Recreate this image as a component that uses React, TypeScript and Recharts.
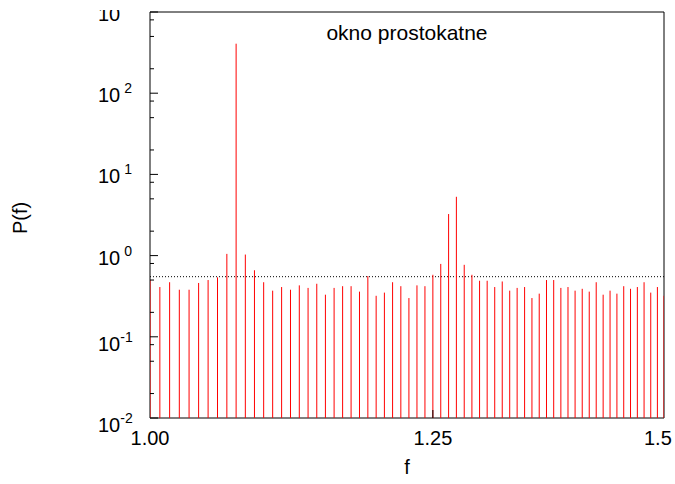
import React from 'react';
import {
  ComposedChart,
  Scatter,
  XAxis,
  YAxis,
  ReferenceLine,
  ReferenceArea,
  Customized,
} from 'recharts';

// frequency grid (f) and power P(f)
const freqs = [
  1.0, 1.0078, 1.0156, 1.0234, 1.0313, 1.0391, 1.0469, 1.0547, 1.0625, 1.0703,
  1.0781, 1.0859, 1.0938, 1.1016, 1.1094, 1.1172, 1.125, 1.1328, 1.1406, 1.1484,
  1.1563, 1.1641, 1.1719, 1.1797, 1.1875, 1.1953, 1.2031, 1.2109, 1.2188, 1.2266,
  1.2344, 1.2422, 1.25, 1.2578, 1.2656, 1.2734, 1.2813, 1.2891, 1.2969, 1.3047,
  1.3125, 1.3203, 1.3281, 1.3359, 1.3438, 1.3516, 1.3594, 1.3672, 1.375, 1.3828,
  1.3906, 1.3984, 1.4063, 1.4141, 1.4219, 1.4297, 1.4375, 1.4453, 1.4531, 1.4609,
  1.4688, 1.4766, 1.4844, 1.4922, 1.5,
];

const power = [
  0.5, 0.41, 0.47, 0.38, 0.38, 0.46, 0.5, 0.54, 1.05, 407,
  1.03, 0.66, 0.47, 0.37, 0.41, 0.38, 0.43, 0.4, 0.45, 0.33,
  0.4, 0.42, 0.42, 0.36, 0.56, 0.32, 0.35, 0.47, 0.42, 0.3,
  0.43, 0.42, 0.58, 0.79, 3.25, 5.3, 0.77, 0.58, 0.49, 0.49,
  0.41, 0.48, 0.37, 0.4, 0.41, 0.3, 0.34, 0.5, 0.5, 0.4,
  0.41, 0.37, 0.39, 0.36, 0.47, 0.33, 0.37, 0.34, 0.42, 0.39,
  0.41, 0.47, 0.35, 0.41, 0.32,
];

const xTicks = [1.0, 1.25, 1.5];
const xTickLabels = ['1.00', '1.25', '1.5'];
const yTicks = [
  0.01, 0.02, 0.05, 0.08,
  0.1, 0.2, 0.5, 0.8,
  1, 2, 5, 8,
  10, 20, 50, 80,
  100, 200, 500, 800,
  1000,
];
const noiseLevel = 0.55;
const title = 'okno prostokatne';

const data = freqs.map((f, i) => ({ f, p: power[i] }));

const W = 675;
const H = 484;
const PLOT_TOP = 12;
const PLOT_BOTTOM = 418;
const PLOT_LEFT = 150;
const PLOT_RIGHT = 664;
const FONT = 'Liberation Sans, Arial, Helvetica, sans-serif';

const isMajor = (v: number) => {
  const e = Math.round(Math.log10(v));
  return Math.abs(v - Math.pow(10, e)) < 1e-9 * v;
};

const Stem = (props: any) => {
  const { cx, cy } = props;
  if (cx == null || cy == null) return null;
  return <line x1={cx} x2={cx} y1={cy} y2={PLOT_BOTTOM} stroke="#ff0000" strokeWidth={1} />;
};

const LeftTick = (props: any) => {
  const { x, y, payload } = props;
  const v = payload.value;
  const major = isMajor(v);
  const e = Math.round(Math.log10(v));
  const neg = e < 0;
  return (
    <g>
      <line x1={x} x2={x + (major ? 8 : 4)} y1={y} y2={y} stroke="#000" />
      {major && e === 3 && (
        <>
          <defs>
            <clipPath id="topclip">
              <rect x={0} y={10} width={140} height={40} />
            </clipPath>
          </defs>
          <text x={98} y={y + 9} fontSize={20} fontFamily={FONT} fill="#000" clipPath="url(#topclip)">
            10
          </text>
        </>
      )}
      {major && e !== 3 && (
        <text x={98} y={y + (neg ? 14 : 9)} fontSize={20} fontFamily={FONT} fill="#000">
          10
          <tspan dx={neg ? 0 : 4} dy={-9} fontSize={14}>
            {neg ? `-${-e}` : `${e}`}
          </tspan>
        </text>
      )}
    </g>
  );
};

const RightTick = (props: any) => {
  const { x, y, payload } = props;
  const major = isMajor(payload.value);
  return <line x1={x} x2={x - (major ? 9 : 5)} y1={y} y2={y} stroke="#000" />;
};

const BottomTick = (props: any) => {
  const { x, y, payload, index } = props;
  const inner = payload.value > 1 && payload.value < 1.5;
  const last = index === xTicks.length - 1;
  return (
    <g>
      {inner && <line x1={x} x2={x} y1={y} y2={y - 8} stroke="#000" />}
      <text
        x={last ? x - 20 : x}
        y={y + 27}
        textAnchor={last ? 'start' : 'middle'}
        fontSize={20}
        fontFamily={FONT}
        fill="#000"
      >
        {xTickLabels[index]}
      </text>
    </g>
  );
};

const TopTick = (props: any) => {
  const { x, y } = props;
  return <line x1={x} x2={x} y1={y} y2={y + 7} stroke="#000" />;
};

const Labels = () => (
  <g fontFamily={FONT} fill="#000">
    <text x={(PLOT_LEFT + PLOT_RIGHT) / 2} y={40} textAnchor="middle" fontSize={21}>
      {title}
    </text>
    <text x={(PLOT_LEFT + PLOT_RIGHT) / 2} y={474} textAnchor="middle" fontSize={20}>
      f
    </text>
    <text
      x={27}
      y={(PLOT_TOP + PLOT_BOTTOM) / 2 + 3}
      textAnchor="middle"
      fontSize={20}
      transform={`rotate(-90 27 ${(PLOT_TOP + PLOT_BOTTOM) / 2 + 3})`}
    >
      P(f)
    </text>
  </g>
);

export default function App() {
  return (
    <div style={{ position: 'absolute', left: 0, top: 0, width: W, height: H, background: '#fff' }}>
      <ComposedChart
        width={W}
        height={H}
        data={data}
        margin={{ top: PLOT_TOP, right: W - PLOT_RIGHT, left: 0, bottom: 0 }}
      >
        <XAxis
          xAxisId="b"
          dataKey="f"
          type="number"
          scale="log"
          domain={[1, 1.5]}
          allowDataOverflow
          ticks={xTicks}
          interval={0}
          height={H - PLOT_BOTTOM}
          axisLine={false}
          tickLine={false}
          tickSize={0}
          tickMargin={0}
          tick={<BottomTick />}
        />
        <XAxis
          xAxisId="t"
          orientation="top"
          type="number"
          scale="log"
          domain={[1, 1.5]}
          allowDataOverflow
          ticks={[1.25]}
          height={0}
          axisLine={false}
          tickLine={false}
          tickSize={0}
          tickMargin={0}
          tick={<TopTick />}
        />
        <YAxis
          yAxisId="l"
          type="number"
          scale="log"
          domain={[0.01, 1000]}
          allowDataOverflow
          ticks={yTicks}
          interval={0}
          width={PLOT_LEFT}
          axisLine={false}
          tickLine={false}
          tickSize={0}
          tickMargin={0}
          tick={<LeftTick />}
        />
        <YAxis
          yAxisId="r"
          orientation="right"
          type="number"
          scale="log"
          domain={[0.01, 1000]}
          allowDataOverflow
          ticks={yTicks}
          interval={0}
          width={0}
          axisLine={false}
          tickLine={false}
          tickSize={0}
          tickMargin={0}
          tick={<RightTick />}
        />
        <Scatter
          xAxisId="b"
          yAxisId="l"
          dataKey="p"
          shape={<Stem />}
          isAnimationActive={false}
        />
        <ReferenceLine
          xAxisId="b"
          yAxisId="l"
          y={noiseLevel}
          stroke="#000"
          strokeDasharray="1 2"
        />
        <ReferenceArea
          xAxisId="b"
          yAxisId="l"
          x1={1}
          x2={1.5}
          y1={0.01}
          y2={1000}
          fill="none"
          stroke="#000"
          strokeWidth={1}
          fillOpacity={0}
        />
        <Customized component={Labels} />
      </ComposedChart>
    </div>
  );
}
